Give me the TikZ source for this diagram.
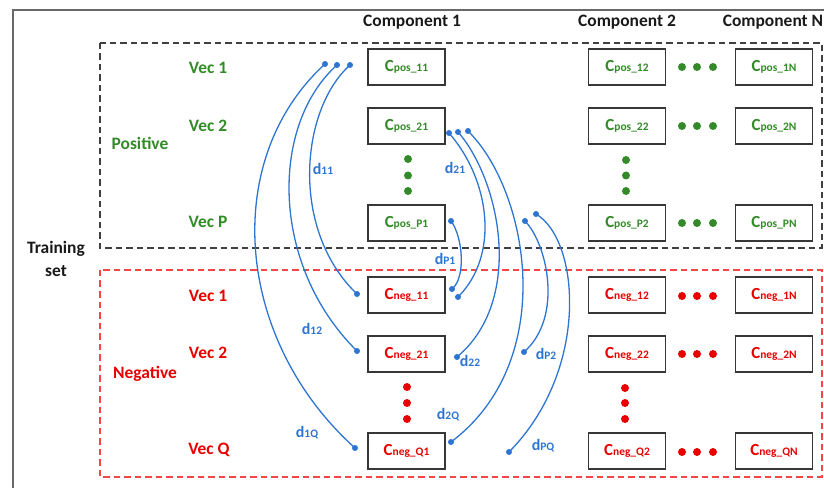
\documentclass[tikz,border=0pt]{standalone}
\usepackage{fontspec}
\setmainfont{Carlito}
\definecolor{gtxt}{RGB}{52,138,40}
\definecolor{rtxt}{RGB}{232,0,0}
\definecolor{rdash}{RGB}{245,70,70}
\definecolor{bcurve}{RGB}{46,117,210}
\definecolor{boxgray}{RGB}{55,55,55}
\definecolor{framegray}{RGB}{105,105,105}
\definecolor{kdash}{RGB}{64,64,64}
\newcommand\ccomp[1]{{\fontsize{17}{17}\selectfont C}{\fontsize{11.5}{12}\selectfont #1}}
\newcommand\dlab[1]{{\fontsize{16}{16}\selectfont d}{\fontsize{11.5}{12}\selectfont #1}}
\tikzset{
  hdr/.style={font=\fontsize{17.5}{20}\selectfont\bfseries, text=black!90, inner sep=0pt},
  glbl/.style={font=\fontsize{17.5}{20}\selectfont\bfseries, text=gtxt, inner sep=0pt},
  rlbl/.style={font=\fontsize{17.5}{20}\selectfont\bfseries, text=rtxt, inner sep=0pt},
  cbox/.style={draw=boxgray, line width=1.3bp, minimum width=77bp, minimum height=36bp, inner sep=0pt, font=\bfseries},
  gbox/.style={cbox, text=gtxt},
  rbox/.style={cbox, text=rtxt},
  gdot/.style={circle, fill=gtxt, minimum size=8bp, inner sep=0pt},
  rdot/.style={circle, fill=rtxt, minimum size=8bp, inner sep=0pt},
  bdot/.style={circle, fill=bcurve, minimum size=6bp, inner sep=0pt},
  bline/.style={draw=bcurve, line width=1.3bp},
  dl/.style={text=bcurve, font=\bfseries, inner sep=0pt},
}
\begin{document}
\begin{tikzpicture}[x=1bp,y=-1bp]
\useasboundingbox (0,0) rectangle (824,488);
% outer frame
\coordinate (fr1) at (826,10);
\coordinate (fr2) at (13,10);
\coordinate (fr3) at (13,490);
\draw[framegray, line width=1.8bp] (fr1) -- (fr2) -- (fr3);
% dashed groups
\coordinate (pA) at (100,43);
\coordinate (pB) at (822,248);
\coordinate (nA) at (100,270);
\coordinate (nB) at (822,477);
\draw[kdash, line width=1.3bp, dash pattern=on 6.5bp off 4bp] (pA) rectangle (pB);
\draw[rdash, line width=1.3bp, dash pattern=on 6.5bp off 4bp] (nA) rectangle (nB);
% headers
\node[hdr] (h1) at (412,22) {Component 1};
\node[hdr] (h2) at (627,22) {Component 2};
\node[hdr] (hN) at (773,22) {Component N};
\node[hdr, align=center, font=\fontsize{17.5}{23}\selectfont\bfseries] (train) at (56,259) {Training\\set};
% group labels
\node[glbl] (pos) at (140,143) {Positive};
\node[rlbl] (neg) at (145,374) {Negative};
\node[glbl] (pv1) at (208,68) {Vec 1};
\node[glbl] (pv2) at (208,126) {Vec 2};
\node[glbl] (pvP) at (208,222) {Vec P};
\node[rlbl] (nv1) at (208,296) {Vec 1};
\node[rlbl] (nv2) at (208,353) {Vec 2};
\node[rlbl] (nvQ) at (209,450) {Vec Q};
% positive boxes
\node[gbox] (cp11) at (406.5,67) {\ccomp{pos\_11}};
\node[gbox] (cp21) at (406.5,126) {\ccomp{pos\_21}};
\node[gbox] (cpP1) at (406.5,223) {\ccomp{pos\_P1}};
\node[gbox] (cp12) at (627,67) {\ccomp{pos\_12}};
\node[gbox] (cp22) at (627,126) {\ccomp{pos\_22}};
\node[gbox] (cpP2) at (627,223) {\ccomp{pos\_P2}};
\node[gbox] (cp1N) at (774,67) {\ccomp{pos\_1N}};
\node[gbox] (cp2N) at (774,126) {\ccomp{pos\_2N}};
\node[gbox] (cpPN) at (774,223) {\ccomp{pos\_PN}};
% negative boxes
\node[rbox] (cn11) at (406.5,295) {\ccomp{neg\_11}};
\node[rbox] (cn21) at (406.5,354) {\ccomp{neg\_21}};
\node[rbox] (cnQ1) at (406.5,451) {\ccomp{neg\_Q1}};
\node[rbox] (cn12) at (627,295) {\ccomp{neg\_12}};
\node[rbox] (cn22) at (627,354) {\ccomp{neg\_22}};
\node[rbox] (cnQ2) at (627,451) {\ccomp{neg\_Q2}};
\node[rbox] (cn1N) at (774,295) {\ccomp{neg\_1N}};
\node[rbox] (cn2N) at (774,354) {\ccomp{neg\_2N}};
\node[rbox] (cnQN) at (774,451) {\ccomp{neg\_QN}};
% horizontal ellipsis dots
\foreach \r/\y in {1/67,2/126,3/223}{
  \node[gdot] (gh\r a) at (682,\y) {};
  \node[gdot] (gh\r b) at (697,\y) {};
  \node[gdot] (gh\r c) at (713,\y) {};
}
\foreach \r/\y in {1/296,2/354,3/452}{
  \node[rdot] (rh\r a) at (682,\y) {};
  \node[rdot] (rh\r b) at (697,\y) {};
  \node[rdot] (rh\r c) at (713,\y) {};
}
% vertical ellipsis dots
\node[gdot] (gv1a) at (408,159) {};
\node[gdot] (gv1b) at (408,175.5) {};
\node[gdot] (gv1c) at (408,191) {};
\node[gdot] (gv2a) at (626,160) {};
\node[gdot] (gv2b) at (626,175.5) {};
\node[gdot] (gv2c) at (626,191) {};
\node[rdot] (rv1a) at (407,387) {};
\node[rdot] (rv1b) at (407,403) {};
\node[rdot] (rv1c) at (407,419) {};
\node[rdot] (rv2a) at (625,388) {};
\node[rdot] (rv2b) at (625,403) {};
\node[rdot] (rv2c) at (625,419) {};
% curve end dots
\node[bdot] (a1) at (325,64) {};
\node[bdot] (a2) at (337,65) {};
\node[bdot] (a3) at (350,65) {};
\node[bdot] (e11) at (357,294) {};
\node[bdot] (e12) at (357,351) {};
\node[bdot] (e1Q) at (355,448) {};
\node[bdot] (b1) at (449,133) {};
\node[bdot] (b2) at (458,132) {};
\node[bdot] (b3) at (468,131) {};
\node[bdot] (e21) at (458,297) {};
\node[bdot] (e22) at (457,357) {};
\node[bdot] (e2Q) at (451,442) {};
\node[bdot] (p1) at (451,221) {};
\node[bdot] (eP1) at (452,289) {};
\node[bdot] (q1) at (525,221) {};
\node[bdot] (q2) at (536,214) {};
\node[bdot] (eP2) at (524,352) {};
\node[bdot] (ePQ) at (509,452) {};
% curves
\draw[bline] (a3.center) .. controls (300,110) and (290,230) .. (e11.center);
\draw[bline] (a2.center) .. controls (270,125) and (270,265) .. (e12.center);
\draw[bline] (a1.center) .. controls (220,160) and (235,340) .. (e1Q.center);
\draw[bline] (b1.center) .. controls (490,180) and (500,255) .. (e21.center);
\draw[bline] (b2.center) .. controls (500,180) and (525,300) .. (e22.center);
\draw[bline] (b3.center) .. controls (528,190) and (560,360) .. (e2Q.center);
\draw[bline] (p1.center) .. controls (463,237) and (466,278) .. (eP1.center);
\draw[bline] (q1.center) .. controls (548,245) and (563,318) .. (eP2.center);
\draw[bline] (q2.center) .. controls (580,240) and (590,370) .. (ePQ.center);
% distance labels
\node[dl] (l11) at (323,169) {\dlab{11}};
\node[dl] (l12) at (312,329) {\dlab{12}};
\node[dl] (l1Q) at (307,433) {\dlab{1Q}};
\node[dl] (l21) at (455,168) {\dlab{21}};
\node[dl] (lP1) at (445,259) {\dlab{P1}};
\node[dl] (l22) at (470,361) {\dlab{22}};
\node[dl] (l2Q) at (448,415) {\dlab{2Q}};
\node[dl] (lP2) at (546,354) {\dlab{P2}};
\node[dl] (lPQ) at (543,446) {\dlab{PQ}};
\end{tikzpicture}
\end{document}
